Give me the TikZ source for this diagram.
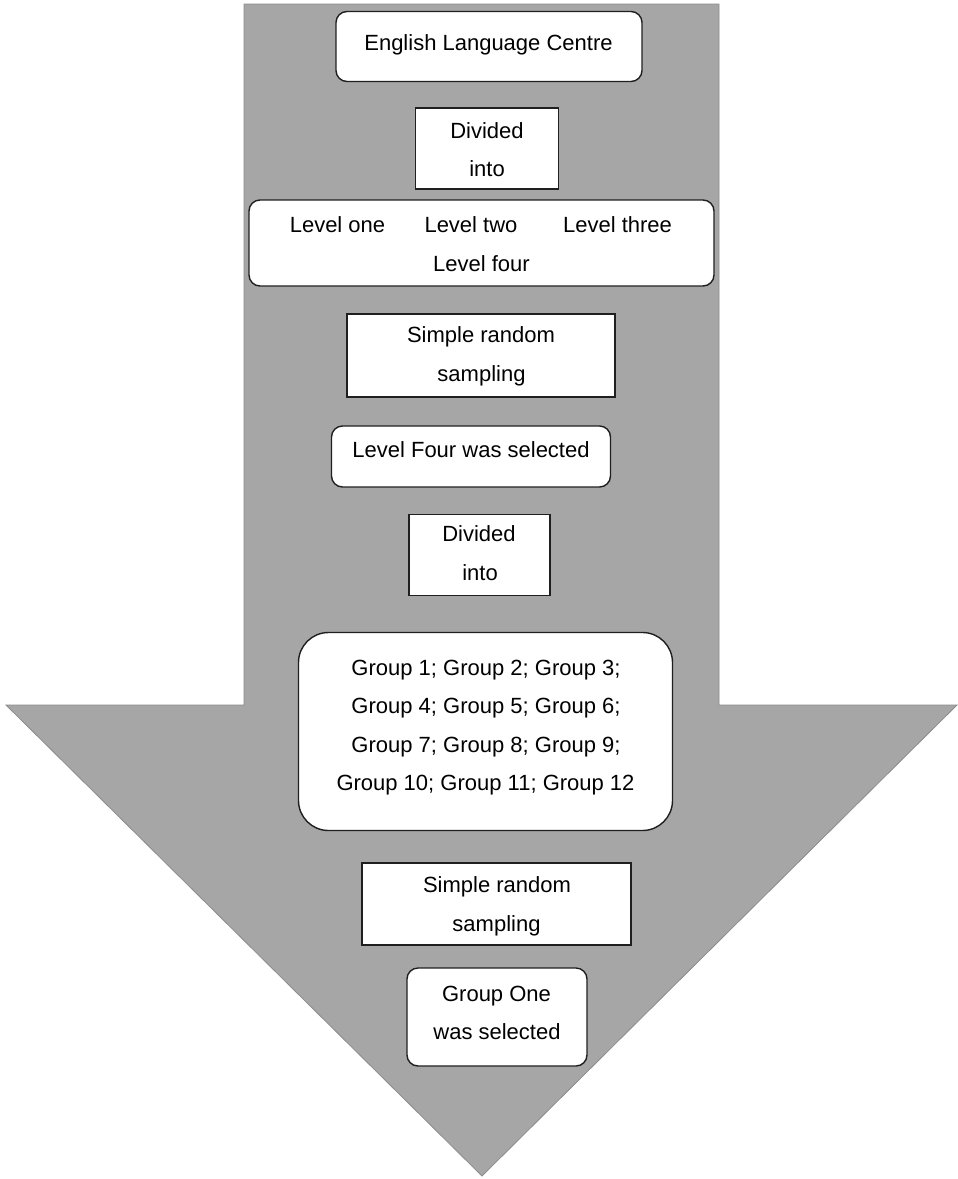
\documentclass[tikz,border=0pt]{standalone}
\usepackage{fontspec}
\setmainfont{Liberation Sans}
\begin{document}
\begin{tikzpicture}[x=1pt, y=-1pt,
  sqbox/.style={draw=black!88, fill=white, line width=1.4pt, inner sep=0pt},
  rndbox/.style={sqbox, rounded corners=11pt},
  txt/.style={anchor=base, inner sep=0pt, font=\fontsize{22}{26}\selectfont, text=black}]
\useasboundingbox (0,0) rectangle (958,1179);

% big downward arrow behind everything
\fill[fill=black!35, draw=black!45, line width=0.8pt]
  (244,4) -- (719,4) -- (719,705) -- (957,705) -- (482,1176)
  -- (6,705) -- (244,705) -- cycle;

% boxes
\node[rndbox, minimum width=306pt, minimum height=70pt] (centre) at (489,46.5) {};
\node[sqbox, minimum width=143pt, minimum height=81pt] (div1) at (487,148.5) {};
\node[rndbox, minimum width=465pt, minimum height=86pt] (levels) at (481.5,243) {};
\node[sqbox, minimum width=268pt, minimum height=83pt] (srs1) at (481,355.5) {};
\node[rndbox, minimum width=279pt, minimum height=61pt] (lvfour) at (471,456.5) {};
\node[sqbox, minimum width=141pt, minimum height=81pt] (div2) at (479.5,555) {};
\node[sqbox, rounded corners=30pt, minimum width=374pt, minimum height=198pt] (groups) at (485.5,731.5) {};
\node[sqbox, minimum width=269pt, minimum height=82pt] (srs2) at (496.5,904) {};
\node[rndbox, minimum width=180pt, minimum height=98pt] (grpone) at (497,1017) {};

% texts
\node[txt] (tcentre) at (488.5,50) {English Language Centre};
\node[txt] (tdiv1a) at (487,138) {Divided};
\node[txt] (tdiv1b) at (487,176) {into};
\node[txt] (tlv1) at (337.5,232) {Level one};
\node[txt] (tlv2) at (471,232) {Level two};
\node[txt] (tlv3) at (617.5,232) {Level three};
\node[txt] (tlv4) at (481.5,271) {Level four};
\node[txt] (tsrs1a) at (481,342) {Simple random};
\node[txt] (tsrs1b) at (481.5,381) {sampling};
\node[txt] (tlvfour) at (471,457) {Level Four was selected};
\node[txt] (tdiv2a) at (479,541) {Divided};
\node[txt] (tdiv2b) at (480,580) {into};
\node[txt] (tg1) at (486,675) {Group 1; Group 2; Group 3;};
\node[txt] (tg2) at (486,713) {Group 4; Group 5; Group 6;};
\node[txt] (tg3) at (486,752) {Group 7; Group 8; Group 9;};
\node[txt] (tg4) at (485.5,790) {Group 10; Group 11; Group 12};
\node[txt] (tsrs2a) at (497,892) {Simple random};
\node[txt] (tsrs2b) at (496.5,931) {sampling};
\node[txt] (tgone) at (496.5,1001) {Group One};
\node[txt] (tgsel) at (497,1039) {was selected};
\end{tikzpicture}
\end{document}
